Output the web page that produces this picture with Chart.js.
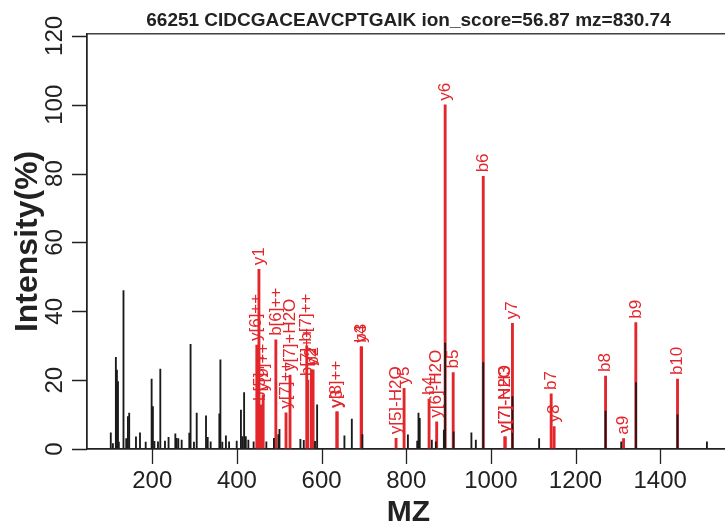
<!DOCTYPE html>
<html>
<head>
<meta charset="utf-8">
<script src="https://cdn.jsdelivr.net/npm/chart.js@4.4.1/dist/chart.umd.min.js"></script>
<style>
  html, body { margin: 0; padding: 0; background: #fff; overflow: hidden; }
  #wrap { width: 735px; height: 525px; }
</style>
</head>
<body>
<div id="wrap"><canvas id="spectrum" width="735" height="525"></canvas></div>
<script>
const TITLE = '66251 CIDCGACEAVCPTGAIK ion_score=56.87 mz=830.74';

// unmatched peaks (black)
const peakMz = [102, 107, 114, 116.5, 119, 121, 132, 138.5, 142.5, 145.5,
    161.5, 171, 184.5, 198.5, 201.5, 205, 213.5, 219, 230, 238.5,
    254.5, 257.5, 261.5, 269.5, 287.5, 290.5, 298.5, 305, 327, 331,
    338, 358.5, 361, 365.5, 374, 381.5, 399.5, 409.5, 413, 417,
    421, 427, 439.5, 469.5, 487.5, 498, 500.5, 550, 558, 584.5,
    589.5, 654, 671.5, 696.5, 804, 826, 829, 832, 860.5, 870,
    889, 892, 912, 954, 964.5, 982, 1051, 1114, 1271, 1308,
    1343, 1441, 1510.5];
const peakIntensity = [4.7, 1.6, 26.6, 22.9, 19.6, 2, 46, 3, 9.4, 10.4,
    3.5, 4.7, 2, 20.3, 12.3, 2.2, 2.1, 23.2, 2.3, 3.4,
    4.4, 3.1, 3, 2.6, 4.6, 30.4, 2, 10.4, 9.6, 3.4,
    2.1, 10.2, 25.9, 2, 3.8, 2.1, 2.3, 11.3, 3.6, 16.4,
    3.6, 2.6, 2.1, 2.1, 3.1, 4.2, 5.7, 2.8, 2.5, 2.2,
    12.8, 3.8, 8.7, 4.2, 4.1, 2.3, 10.4, 8.9, 2.6, 2.1,
    5.5, 30.8, 5, 4.7, 2.6, 25.1, 15.2, 3, 11, 2.1,
    19.3, 9.9, 2.1];

// matched fragment ions (red)
const ionMz = [447, 452, 456, 462, 492, 516, 525.5, 565, 567.5, 576,
    580, 636, 637, 693.5, 694.5, 776, 795, 854, 872, 892,
    911, 982, 1033, 1034, 1051, 1142.5, 1149.5, 1271, 1313.5, 1342.5,
    1441];
const ionIntensity = [30.2, 52.2, 12.8, 15.7, 31.7, 10.5, 21.5, 30, 20, 23,
    23, 10.8, 10.8, 29.7, 29.7, 3.1, 17.6, 14.5, 7.9, 100,
    22.2, 79.2, 3.5, 3.5, 36.5, 16, 6.5, 21.2, 3, 36.7,
    20.3];
const ionLabels = ['y[6]++', 'y1', 'b[5]++', 'y[9]++', 'b[6]++', 'y[7]++', 'y[7]+H2O', 'b[7]++', 'b[7]++', 'y2',
    'b2', 'y[8]++', 'y3', 'b3', 'y4', 'y[5]-H2O', 'y5', 'b4', 'y[6]-H2O', 'y6',
    'b5', 'b6', 'y[7]-H2O', 'y[7]-NH3', 'y7', 'b7', 'y8', 'b8', 'a9', 'b9',
    'b10'];

const xTicks = [200, 400, 600, 800, 1000, 1200, 1400];
const yTicks = [0, 20, 40, 60, 80, 100, 120];

const RED = '#e3262b';
const INK = '#222';
const FONT = '"Liberation Sans", Arial, Helvetica, sans-serif';

Chart.defaults.font.family = FONT;

// box, tick marks, rotated labels and ion labels
const decorations = {
    id: 'decorations',
    afterDraw(chart) {
        const {ctx, chartArea, scales: {x, y}} = chart;
        ctx.save();
        ctx.strokeStyle = INK;
        ctx.lineWidth = 1.3;
        ctx.strokeRect(chartArea.left, chartArea.top,
            chartArea.right - chartArea.left, chartArea.bottom - chartArea.top);

        // tick marks
        ctx.beginPath();
        for (const v of xTicks) {
            const px = Math.round(x.getPixelForValue(v)) + 0.5;
            ctx.moveTo(px, chartArea.bottom);
            ctx.lineTo(px, chartArea.bottom + 15);
        }
        for (const v of yTicks) {
            const py = Math.round(y.getPixelForValue(v)) + 0.5;
            ctx.moveTo(chartArea.left, py);
            ctx.lineTo(chartArea.left - 15, py);
        }
        ctx.stroke();

        ctx.fillStyle = INK;
        ctx.font = '24px ' + FONT;
        ctx.textAlign = 'center';
        ctx.textBaseline = 'middle';
        for (const v of yTicks) {
            ctx.save();
            ctx.translate(55, y.getPixelForValue(v));
            ctx.rotate(-Math.PI / 2);
            ctx.fillText(String(v), 0, 0);
            ctx.restore();
        }

        // axis titles
        ctx.font = 'bold 30px ' + FONT;
        ctx.fillText('MZ', (chartArea.left + chartArea.right) / 2, 513);
        ctx.font = 'bold 32px ' + FONT;
        ctx.save();
        ctx.translate(28, (chartArea.top + chartArea.bottom) / 2);
        ctx.rotate(-Math.PI / 2);
        ctx.fillText('Intensity(%)', 0, 0);
        ctx.restore();

        ctx.fillStyle = RED;
        ctx.font = '17px ' + FONT;
        ctx.textAlign = 'left';
        for (let i = 0; i < ionMz.length; i++) {
            ctx.save();
            ctx.translate(x.getPixelForValue(ionMz[i]), y.getPixelForValue(ionIntensity[i]) - 4);
            ctx.rotate(-Math.PI / 2);
            ctx.fillText(ionLabels[i], 0, 0);
            ctx.restore();
        }
        ctx.restore();
    }
};

new Chart(document.getElementById('spectrum'), {
    type: 'bar',
    data: {
        datasets: [{
            label: 'matched',
            data: ionMz.map((m, i) => ({x: m, y: ionIntensity[i]})),
            backgroundColor: RED,
            barThickness: 2.2,
            grouped: false,
            order: 1
        }, {
            label: 'peaks',
            data: peakMz.map((m, i) => ({x: m, y: peakIntensity[i]})),
            backgroundColor: '#1a1a1a',
            barThickness: 1.2,
            grouped: false,
            order: 0
        }]
    },
    options: {
        responsive: false,
        animation: false,
        layout: {padding: {left: 0, right: 5, top: 0, bottom: 0}},
        scales: {
            x: {
                type: 'linear',
                min: 45.8,
                max: 1565,
                offset: false,
                afterBuildTicks: (scale) => { scale.ticks = xTicks.map(v => ({value: v})); },
                afterFit: (scale) => { scale.height = 76; },
                ticks: {
                    autoSkip: false,
                    maxRotation: 0,
                    padding: 3,
                    color: INK,
                    font: {size: 24},
                    callback: (v) => String(v)
                },
                grid: {display: false, tickLength: 15},
                border: {display: true, color: INK, width: 1.3}
            },
            y: {
                min: 0,
                max: 120.6,
                afterBuildTicks: (scale) => { scale.ticks = yTicks.map(v => ({value: v})); },
                afterFit: (scale) => { scale.width = 87; },
                ticks: {display: false},
                grid: {display: false},
                border: {display: true, color: INK, width: 1.3}
            }
        },
        plugins: {
            legend: {display: false},
            tooltip: {enabled: false},
            title: {
                display: true,
                fullSize: false,
                text: TITLE,
                color: INK,
                font: {size: 19, weight: 'bold'},
                padding: {top: 9, bottom: 2}
            }
        }
    },
    plugins: [decorations]
});
</script>
</body>
</html>
